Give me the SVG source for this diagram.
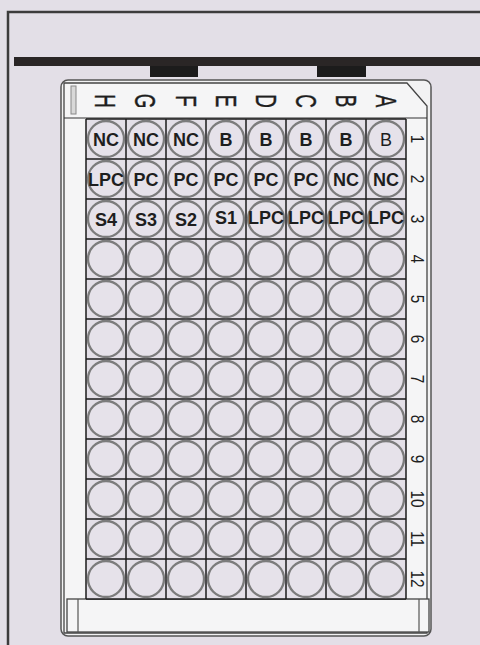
<svg xmlns="http://www.w3.org/2000/svg" width="480" height="645" viewBox="0 0 480 645">
<defs>
<style>
.bg{fill:#e3dfe7}
.wh{fill:#f5f5f6}
.well circle{fill:#e6e2ea;stroke:#7c7c7c;stroke-width:2.3}
.well text{font-family:"Liberation Sans",Arial,sans-serif;font-weight:bold;font-size:18px;fill:#1e1e1e;text-anchor:middle;dominant-baseline:central}
.lab{font-family:"Liberation Sans",Arial,sans-serif;font-size:29px;fill:#1e1e1e;stroke:#1e1e1e;stroke-width:0.4;text-anchor:middle;dominant-baseline:central}
.num{font-family:"Liberation Sans",Arial,sans-serif;font-size:18px;fill:#1e1e1e;text-anchor:middle;dominant-baseline:central}
.grid line{stroke:#1a1a1a;stroke-width:1.5}
</style>
</defs>
<rect class="bg" x="0" y="0" width="480" height="645"/>
<g id="frame">
<path d="M8,645 V12 H480" fill="none" stroke="#3c3c3c" stroke-width="2.5"/>
<rect x="14" y="57" width="466" height="9" fill="#2a2626"/>
<rect x="150" y="66" width="48" height="11" fill="#1c1c1c"/>
<rect x="317" y="66" width="49" height="11" fill="#1c1c1c"/>
</g>
<g id="plate">
<rect x="61" y="80" width="370" height="556" rx="7" fill="#f2f2f3" stroke="#555" stroke-width="1.5"/>
<path d="M64,83 H407 L427,106 V633 H64 Z" class="wh" stroke="#444" stroke-width="1.3"/>
<line x1="64" y1="118" x2="427" y2="118" stroke="#333" stroke-width="1.2"/>
<rect x="71" y="86" width="5" height="28" fill="#d8d8d8" stroke="#888" stroke-width="1"/>
<rect x="67" y="599" width="362" height="33" class="wh" stroke="#444" stroke-width="1.3"/>
<line x1="78" y1="599" x2="78" y2="632" stroke="#555" stroke-width="1.2"/>
<line x1="419" y1="599" x2="419" y2="632" stroke="#555" stroke-width="1.2"/>
</g>
<g id="column-labels">
<text class="lab" transform="translate(105 101) rotate(90) scale(0.65 1)">H</text>
<text class="lab" transform="translate(145 101) rotate(90) scale(0.65 1)">G</text>
<text class="lab" transform="translate(186 101) rotate(90) scale(0.65 1)">F</text>
<text class="lab" transform="translate(226 101) rotate(90) scale(0.65 1)">E</text>
<text class="lab" transform="translate(266 101) rotate(90) scale(0.65 1)">D</text>
<text class="lab" transform="translate(306 101) rotate(90) scale(0.65 1)">C</text>
<text class="lab" transform="translate(346 101) rotate(90) scale(0.65 1)">B</text>
<text class="lab" transform="translate(386 101) rotate(90) scale(0.65 1)">A</text>
</g>
<g id="row-labels">
<text class="num" transform="translate(417 139) rotate(90) scale(0.85 1)">1</text>
<text class="num" transform="translate(417 179) rotate(90) scale(0.85 1)">2</text>
<text class="num" transform="translate(417 219) rotate(90) scale(0.85 1)">3</text>
<text class="num" transform="translate(417 259) rotate(90) scale(0.85 1)">4</text>
<text class="num" transform="translate(417 299) rotate(90) scale(0.85 1)">5</text>
<text class="num" transform="translate(417 339) rotate(90) scale(0.85 1)">6</text>
<text class="num" transform="translate(417 379) rotate(90) scale(0.85 1)">7</text>
<text class="num" transform="translate(417 419) rotate(90) scale(0.85 1)">8</text>
<text class="num" transform="translate(417 459) rotate(90) scale(0.85 1)">9</text>
<text class="num" transform="translate(417 499) rotate(90) scale(0.85 1)">10</text>
<text class="num" transform="translate(417 539) rotate(90) scale(0.85 1)">11</text>
<text class="num" transform="translate(417 579) rotate(90) scale(0.85 1)">12</text>
</g>
<rect class="bg" x="86" y="119" width="320" height="480"/>
<g class="grid" id="grid">
<line x1="86" y1="119" x2="406" y2="119"/><line x1="86" y1="159" x2="406" y2="159"/><line x1="86" y1="199" x2="406" y2="199"/><line x1="86" y1="239" x2="406" y2="239"/><line x1="86" y1="279" x2="406" y2="279"/><line x1="86" y1="319" x2="406" y2="319"/><line x1="86" y1="359" x2="406" y2="359"/><line x1="86" y1="399" x2="406" y2="399"/><line x1="86" y1="439" x2="406" y2="439"/><line x1="86" y1="479" x2="406" y2="479"/><line x1="86" y1="519" x2="406" y2="519"/><line x1="86" y1="559" x2="406" y2="559"/><line x1="86" y1="599" x2="406" y2="599"/>
<line x1="86" y1="119" x2="86" y2="599"/><line x1="126" y1="119" x2="126" y2="599"/><line x1="166" y1="119" x2="166" y2="599"/><line x1="206" y1="119" x2="206" y2="599"/><line x1="246" y1="119" x2="246" y2="599"/><line x1="286" y1="119" x2="286" y2="599"/><line x1="326" y1="119" x2="326" y2="599"/><line x1="366" y1="119" x2="366" y2="599"/><line x1="406" y1="119" x2="406" y2="599"/>
</g>
<g id="wells">
<g id="H1" class="well"><circle cx="106" cy="139" r="18"/><text x="106" y="140">NC</text></g>
<g id="G1" class="well"><circle cx="146" cy="139" r="18"/><text x="146" y="140">NC</text></g>
<g id="F1" class="well"><circle cx="186" cy="139" r="18"/><text x="186" y="140">NC</text></g>
<g id="E1" class="well"><circle cx="226" cy="139" r="18"/><text x="226" y="140">B</text></g>
<g id="D1" class="well"><circle cx="266" cy="139" r="18"/><text x="266" y="140">B</text></g>
<g id="C1" class="well"><circle cx="306" cy="139" r="18"/><text x="306" y="140">B</text></g>
<g id="B1" class="well"><circle cx="346" cy="139" r="18"/><text x="346" y="140">B</text></g>
<g id="A1" class="well"><circle cx="386" cy="139" r="18"/><text x="386" y="140" style="font-weight:normal">B</text></g>
<g id="H2" class="well"><circle cx="106" cy="179" r="18"/><text x="106" y="180">LPC</text></g>
<g id="G2" class="well"><circle cx="146" cy="179" r="18"/><text x="146" y="180">PC</text></g>
<g id="F2" class="well"><circle cx="186" cy="179" r="18"/><text x="186" y="180">PC</text></g>
<g id="E2" class="well"><circle cx="226" cy="179" r="18"/><text x="226" y="180">PC</text></g>
<g id="D2" class="well"><circle cx="266" cy="179" r="18"/><text x="266" y="180">PC</text></g>
<g id="C2" class="well"><circle cx="306" cy="179" r="18"/><text x="306" y="180">PC</text></g>
<g id="B2" class="well"><circle cx="346" cy="179" r="18"/><text x="346" y="180">NC</text></g>
<g id="A2" class="well"><circle cx="386" cy="179" r="18"/><text x="386" y="180">NC</text></g>
<g id="H3" class="well"><circle cx="106" cy="219" r="18"/><text x="106" y="220">S4</text></g>
<g id="G3" class="well"><circle cx="146" cy="219" r="18"/><text x="146" y="220">S3</text></g>
<g id="F3" class="well"><circle cx="186" cy="219" r="18"/><text x="186" y="220">S2</text></g>
<g id="E3" class="well"><circle cx="226" cy="219" r="18"/><text x="226" y="218">S1</text></g>
<g id="D3" class="well"><circle cx="266" cy="219" r="18"/><text x="266" y="218">LPC</text></g>
<g id="C3" class="well"><circle cx="306" cy="219" r="18"/><text x="306" y="218">LPC</text></g>
<g id="B3" class="well"><circle cx="346" cy="219" r="18"/><text x="346" y="218">LPC</text></g>
<g id="A3" class="well"><circle cx="386" cy="219" r="18"/><text x="386" y="218">LPC</text></g>
<g class="well" id="empty-wells">
<circle cx="106" cy="259" r="18"/><circle cx="146" cy="259" r="18"/><circle cx="186" cy="259" r="18"/><circle cx="226" cy="259" r="18"/><circle cx="266" cy="259" r="18"/><circle cx="306" cy="259" r="18"/><circle cx="346" cy="259" r="18"/><circle cx="386" cy="259" r="18"/>
<circle cx="106" cy="299" r="18"/><circle cx="146" cy="299" r="18"/><circle cx="186" cy="299" r="18"/><circle cx="226" cy="299" r="18"/><circle cx="266" cy="299" r="18"/><circle cx="306" cy="299" r="18"/><circle cx="346" cy="299" r="18"/><circle cx="386" cy="299" r="18"/>
<circle cx="106" cy="339" r="18"/><circle cx="146" cy="339" r="18"/><circle cx="186" cy="339" r="18"/><circle cx="226" cy="339" r="18"/><circle cx="266" cy="339" r="18"/><circle cx="306" cy="339" r="18"/><circle cx="346" cy="339" r="18"/><circle cx="386" cy="339" r="18"/>
<circle cx="106" cy="379" r="18"/><circle cx="146" cy="379" r="18"/><circle cx="186" cy="379" r="18"/><circle cx="226" cy="379" r="18"/><circle cx="266" cy="379" r="18"/><circle cx="306" cy="379" r="18"/><circle cx="346" cy="379" r="18"/><circle cx="386" cy="379" r="18"/>
<circle cx="106" cy="419" r="18"/><circle cx="146" cy="419" r="18"/><circle cx="186" cy="419" r="18"/><circle cx="226" cy="419" r="18"/><circle cx="266" cy="419" r="18"/><circle cx="306" cy="419" r="18"/><circle cx="346" cy="419" r="18"/><circle cx="386" cy="419" r="18"/>
<circle cx="106" cy="459" r="18"/><circle cx="146" cy="459" r="18"/><circle cx="186" cy="459" r="18"/><circle cx="226" cy="459" r="18"/><circle cx="266" cy="459" r="18"/><circle cx="306" cy="459" r="18"/><circle cx="346" cy="459" r="18"/><circle cx="386" cy="459" r="18"/>
<circle cx="106" cy="499" r="18"/><circle cx="146" cy="499" r="18"/><circle cx="186" cy="499" r="18"/><circle cx="226" cy="499" r="18"/><circle cx="266" cy="499" r="18"/><circle cx="306" cy="499" r="18"/><circle cx="346" cy="499" r="18"/><circle cx="386" cy="499" r="18"/>
<circle cx="106" cy="539" r="18"/><circle cx="146" cy="539" r="18"/><circle cx="186" cy="539" r="18"/><circle cx="226" cy="539" r="18"/><circle cx="266" cy="539" r="18"/><circle cx="306" cy="539" r="18"/><circle cx="346" cy="539" r="18"/><circle cx="386" cy="539" r="18"/>
<circle cx="106" cy="579" r="18"/><circle cx="146" cy="579" r="18"/><circle cx="186" cy="579" r="18"/><circle cx="226" cy="579" r="18"/><circle cx="266" cy="579" r="18"/><circle cx="306" cy="579" r="18"/><circle cx="346" cy="579" r="18"/><circle cx="386" cy="579" r="18"/>
</g>
</g>
</svg>
